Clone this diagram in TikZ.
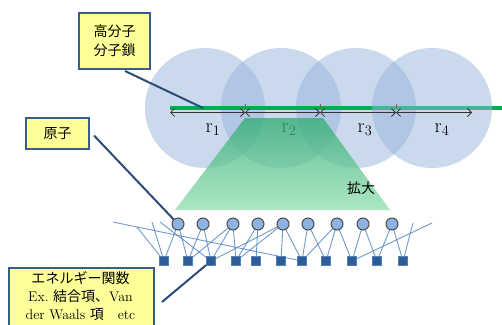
\documentclass[tikz,border=0pt]{standalone}
\usepackage{fontspec}
\newfontfamily\cjk{Noto Sans CJK JP}
\usetikzlibrary{arrows.meta,calc}
\definecolor{bubble}{HTML}{99B5DD}
\definecolor{chain}{HTML}{00B050}
\definecolor{boxfill}{HTML}{FFFF99}
\definecolor{boxline}{HTML}{385D8A}
\definecolor{leader}{HTML}{2C4D75}
\definecolor{atomfill}{HTML}{8DB3E2}
\definecolor{sqfill}{HTML}{2F5C95}
\definecolor{sqline}{HTML}{4F81BD}
\definecolor{netline}{HTML}{4F81BD}
\definecolor{trapTop}{RGB}{45,172,112}
\definecolor{trapBot}{RGB}{145,222,175}
\definecolor{tickc}{RGB}{140,90,60}
\begin{document}
\begin{tikzpicture}[x=1pt,y=-1pt,
  bubblestyle/.style={fill=bubble,fill opacity=0.5},
  labelbox/.style={draw=boxline,line width=2pt,fill=boxfill,inner sep=0pt,align=center,
    font=\fontsize{14}{19}\selectfont},
  atom/.style={circle,draw=black!70,line width=1pt,fill=atomfill,minimum size=12pt,inner sep=0pt},
  termsq/.style={rectangle,draw=sqline,line width=0.8pt,fill=sqfill,minimum size=9pt,inner sep=0pt},
  net/.style={draw=netline,line width=0.9pt,opacity=0.8},
  leaderline/.style={draw=leader,line width=2pt},
  dist/.style={draw=black!80,line width=0.8pt,
    {Straight Barb[length=4pt,width=8pt]}-{Straight Barb[length=4pt,width=8pt]}},
  rlabel/.style={font=\fontsize{20}{24}\selectfont,inner sep=0pt},
]
\clip (0,0) rectangle (502,324);
\fill[white] (0,0) rectangle (502,324);

% bubbles 1-3
\foreach \x in {205,281,356} \fill[bubblestyle] (\x,108) circle (60);
% polymer chain
\coordinate (chainL) at (170,107.5);
\coordinate (chainR) at (502,107.5);
\draw[chain,line width=4pt] (chainL) -- (chainR);
% bubble 4 over the chain
\fill[bubblestyle] (432,108) circle (60);

% ticks and distances
\foreach \x in {245,320,396} \draw[tickc,line width=0.5pt] (\x,104) -- (\x,107.5);
\foreach \x [count=\i from 0] in {170,245,320,396,472} \coordinate (m\i) at (\x,112.5);
\draw[dist] (m0) -- (m1);
\draw[dist] (m1) -- (m2);
\draw[dist] (m2) -- (m3);
\draw[dist] (m3) -- (m4);
\node[rlabel] (r1) at (213,130) {$\mathrm{r}_1$};
\node[rlabel] (r2) at (289,130) {$\mathrm{r}_2$};
\node[rlabel] (r3) at (365,130) {$\mathrm{r}_3$};
\node[rlabel] (r4) at (442,130) {$\mathrm{r}_4$};

% magnification trapezoid
\shade[top color=trapTop,bottom color=trapBot,fill opacity=0.75]
  (245,118) -- (323,118) -- (390,210) -- (175,210) -- cycle;
\node[font=\cjk\fontsize{14}{16}\selectfont,inner sep=0pt] (zoomtxt) at (361,188) {拡大};

% network
\foreach \x [count=\i] in {178,203,233,258,283,308,337,363,392} \coordinate (ca\i) at (\x,224);
\foreach \x [count=\i] in {164,188,211,236,256,281,302,326,352,377,403} \coordinate (sa\i) at (\x,261);
\coordinate (f1) at (113,222);
\coordinate (f2) at (137,227);
\coordinate (f3) at (152,222);
\coordinate (f4) at (160,222);
\coordinate (f5) at (432,223);
\coordinate (f6) at (413,223);
\foreach \a/\b in {1/1,1/2,2/2,2/3,3/3,3/4,3/2,4/4,4/5,5/4,5/6,5/7,5/3,6/7,6/8,7/7,7/8,7/9,8/9,8/10,9/10,9/11}
  \draw[net] (ca\a) -- (sa\b);
\draw[net] (f1) -- (sa7);
\draw[net] (f2) -- (sa1);
\draw[net] (f3) -- (sa1);
\draw[net] (f4) -- (sa3);
\draw[net] (sa9) -- (f5);
\draw[net] (f6) -- (sa11);
\foreach \i in {1,...,9} \node[atom] (c\i) at (ca\i) {};
\foreach \i in {1,...,11} \node[termsq] (s\i) at (sa\i) {};

% label boxes
\node[labelbox,minimum width=71pt,minimum height=56pt] (polymer) at (114.5,41)
  {\cjk 高分子\\\cjk 分子鎖};
\node[labelbox,minimum width=63pt,minimum height=31pt] (atombox) at (57.5,133.5)
  {\cjk 原子};
\node[labelbox,anchor=north west,minimum width=145pt,minimum height=75pt] (energy) at (8,267) {};
\node[anchor=north,inner sep=0pt,align=center,font=\fontsize{14}{18}\selectfont]
  (energytxt) at (80.5,271)
  {{\cjk エネルギー関数}\\Ex.\ {\cjk 結合項、}Van\\der Waals {\cjk 項　}etc};

% leaders
\coordinate (chainpt) at (203,108);
\draw[leaderline] ($(polymer.south)+(10.5,1)$) -- (chainpt);
\draw[leaderline] ($(atombox.east)+(4,2)$) -- (c1);
\coordinate (enstart) at (162,302);
\draw[leaderline] (enstart) -- (s3);
\end{tikzpicture}
\end{document}
